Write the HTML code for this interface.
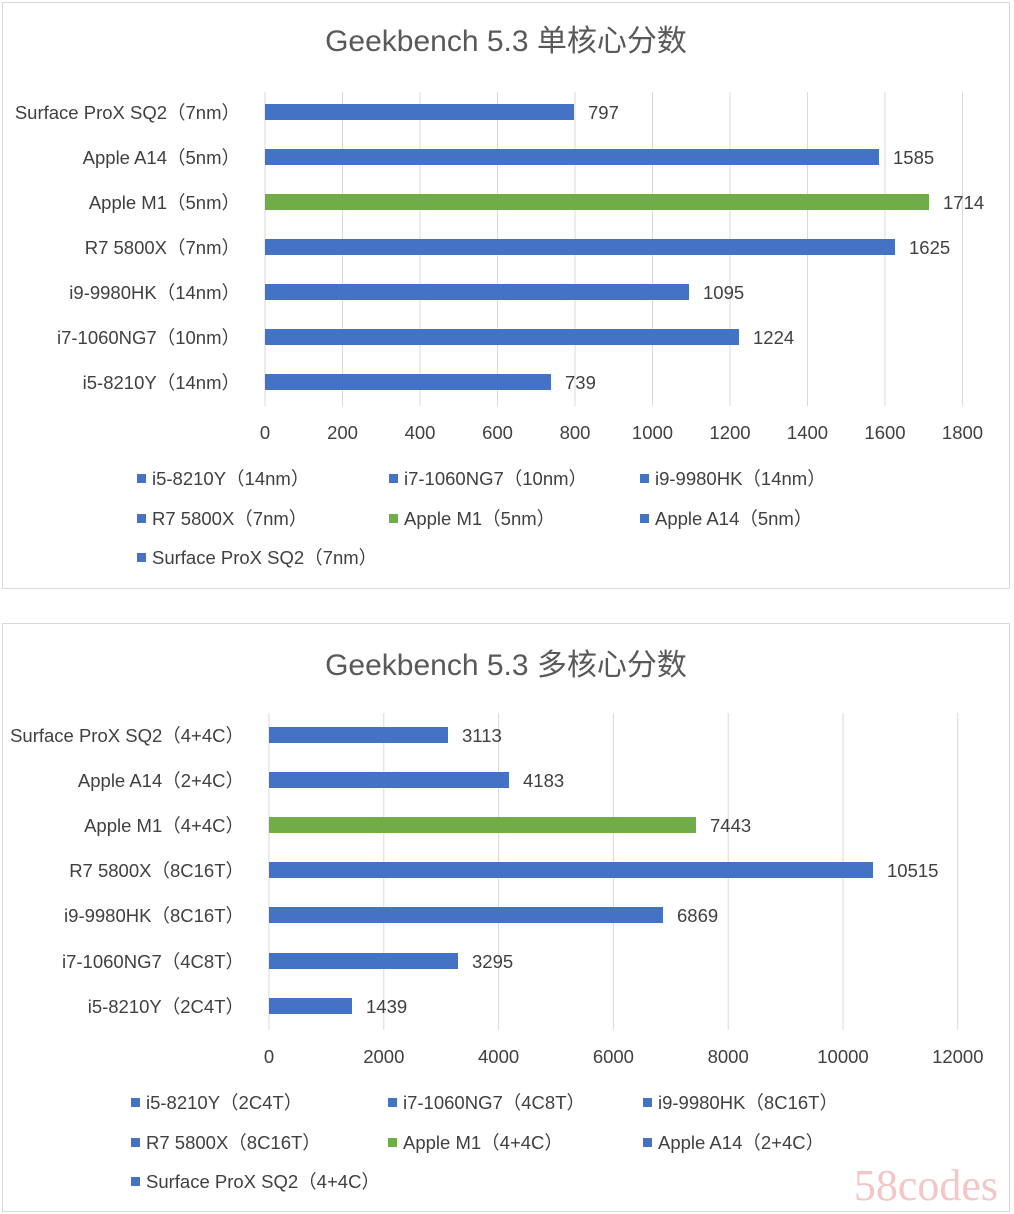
<!DOCTYPE html>
<html><head><meta charset="utf-8"><style>
html,body{margin:0;padding:0;background:#fff;}
svg{display:block;font-family:"Liberation Sans","Noto Sans CJK SC",sans-serif;}
.t{font-size:30px;fill:#595959;}
.l{font-size:18.5px;fill:#404040;}
.g{stroke:#d9d9d9;stroke-width:1;}
</style></head><body>
<svg width="1014" height="1214" viewBox="0 0 1014 1214">
<rect x="2.5" y="2.5" width="1007" height="586" fill="#fff" stroke="#d9d9d9"/>
<rect x="2.5" y="623.5" width="1007" height="588" fill="#fff" stroke="#d9d9d9"/>
<text class="t" x="506" y="51" text-anchor="middle">Geekbench 5.3 单核心分数</text>
<g class="g">
<line x1="265" y1="92" x2="265" y2="406"/><line x1="342.5" y1="92" x2="342.5" y2="406"/><line x1="420" y1="92" x2="420" y2="406"/><line x1="497.5" y1="92" x2="497.5" y2="406"/><line x1="575" y1="92" x2="575" y2="406"/><line x1="652.5" y1="92" x2="652.5" y2="406"/><line x1="730" y1="92" x2="730" y2="406"/><line x1="807.5" y1="92" x2="807.5" y2="406"/><line x1="885" y1="92" x2="885" y2="406"/><line x1="962.5" y1="92" x2="962.5" y2="406"/>
</g>
<g fill="#4472c4">
<rect x="265" y="104" width="309" height="16"/>
<rect x="265" y="149" width="614" height="16"/>
<rect x="265" y="239" width="630" height="16"/>
<rect x="265" y="284" width="424" height="16"/>
<rect x="265" y="329" width="474" height="16"/>
<rect x="265" y="374" width="286" height="16"/>
</g>
<rect x="265" y="194" width="664" height="16" fill="#70ad47"/>
<g class="l">
<text x="588" y="119">797</text><text x="893" y="164">1585</text><text x="943" y="209">1714</text><text x="909" y="254">1625</text><text x="703" y="299">1095</text><text x="753" y="344">1224</text><text x="565" y="389">739</text>
</g>
<g class="l" text-anchor="end">
<text x="240" y="119">Surface ProX SQ2（7nm）</text><text x="240" y="164">Apple A14（5nm）</text><text x="240" y="209">Apple M1（5nm）</text><text x="240" y="254">R7 5800X（7nm）</text><text x="240" y="299">i9-9980HK（14nm）</text><text x="240" y="344">i7-1060NG7（10nm）</text><text x="240" y="389">i5-8210Y（14nm）</text>
</g>
<g class="l" text-anchor="middle">
<text x="265" y="439">0</text><text x="342.5" y="439">200</text><text x="420" y="439">400</text><text x="497.5" y="439">600</text><text x="575" y="439">800</text><text x="652.5" y="439">1000</text><text x="730" y="439">1200</text><text x="807.5" y="439">1400</text><text x="885" y="439">1600</text><text x="962.5" y="439">1800</text>
</g>
<g fill="#4472c4">
<rect x="137" y="474" width="9" height="9"/><rect x="389" y="474" width="9" height="9"/><rect x="640" y="474" width="9" height="9"/><rect x="137" y="514" width="9" height="9"/><rect x="640" y="514" width="9" height="9"/><rect x="137" y="553" width="9" height="9"/>
</g>
<rect x="389" y="514" width="9" height="9" fill="#70ad47"/>
<g class="l">
<text x="152" y="485">i5-8210Y（14nm）</text><text x="404" y="485">i7-1060NG7（10nm）</text><text x="655" y="485">i9-9980HK（14nm）</text>
<text x="152" y="525">R7 5800X（7nm）</text><text x="404" y="525">Apple M1（5nm）</text><text x="655" y="525">Apple A14（5nm）</text>
<text x="152" y="564">Surface ProX SQ2（7nm）</text>
</g>

<text class="t" x="506" y="675" text-anchor="middle">Geekbench 5.3 多核心分数</text>
<g class="g">
<line x1="269" y1="713" x2="269" y2="1030"/><line x1="383.8" y1="713" x2="383.8" y2="1030"/><line x1="498.6" y1="713" x2="498.6" y2="1030"/><line x1="613.4" y1="713" x2="613.4" y2="1030"/><line x1="728.2" y1="713" x2="728.2" y2="1030"/><line x1="843" y1="713" x2="843" y2="1030"/><line x1="957.8" y1="713" x2="957.8" y2="1030"/>
</g>
<g fill="#4472c4">
<rect x="269" y="727" width="179" height="16"/>
<rect x="269" y="772" width="240" height="16"/>
<rect x="269" y="862" width="604" height="16"/>
<rect x="269" y="907" width="394" height="16"/>
<rect x="269" y="953" width="189" height="16"/>
<rect x="269" y="998" width="83" height="16"/>
</g>
<rect x="269" y="817" width="427" height="16" fill="#70ad47"/>
<g class="l">
<text x="462" y="742">3113</text><text x="523" y="787">4183</text><text x="710" y="832">7443</text><text x="887" y="877">10515</text><text x="677" y="922">6869</text><text x="472" y="968">3295</text><text x="366" y="1013">1439</text>
</g>
<g class="l" text-anchor="end">
<text x="244" y="742">Surface ProX SQ2（4+4C）</text><text x="244" y="787">Apple A14（2+4C）</text><text x="244" y="832">Apple M1（4+4C）</text><text x="244" y="877">R7 5800X（8C16T）</text><text x="244" y="922">i9-9980HK（8C16T）</text><text x="244" y="968">i7-1060NG7（4C8T）</text><text x="244" y="1013">i5-8210Y（2C4T）</text>
</g>
<g class="l" text-anchor="middle">
<text x="269" y="1063">0</text><text x="383.8" y="1063">2000</text><text x="498.6" y="1063">4000</text><text x="613.4" y="1063">6000</text><text x="728.2" y="1063">8000</text><text x="843" y="1063">10000</text><text x="957.8" y="1063">12000</text>
</g>
<g fill="#4472c4">
<rect x="131" y="1098" width="9" height="9"/><rect x="388" y="1098" width="9" height="9"/><rect x="643" y="1098" width="9" height="9"/><rect x="131" y="1138" width="9" height="9"/><rect x="643" y="1138" width="9" height="9"/><rect x="131" y="1177" width="9" height="9"/>
</g>
<rect x="388" y="1138" width="9" height="9" fill="#70ad47"/>
<g class="l">
<text x="146" y="1109">i5-8210Y（2C4T）</text><text x="403" y="1109">i7-1060NG7（4C8T）</text><text x="658" y="1109">i9-9980HK（8C16T）</text>
<text x="146" y="1149">R7 5800X（8C16T）</text><text x="403" y="1149">Apple M1（4+4C）</text><text x="658" y="1149">Apple A14（2+4C）</text>
<text x="146" y="1188">Surface ProX SQ2（4+4C）</text>
</g>
<text x="998" y="1200" text-anchor="end" style="font-family:'Liberation Serif',serif;font-size:44px;fill:#f4c6c6;">58codes</text>
</svg>
</body></html>
